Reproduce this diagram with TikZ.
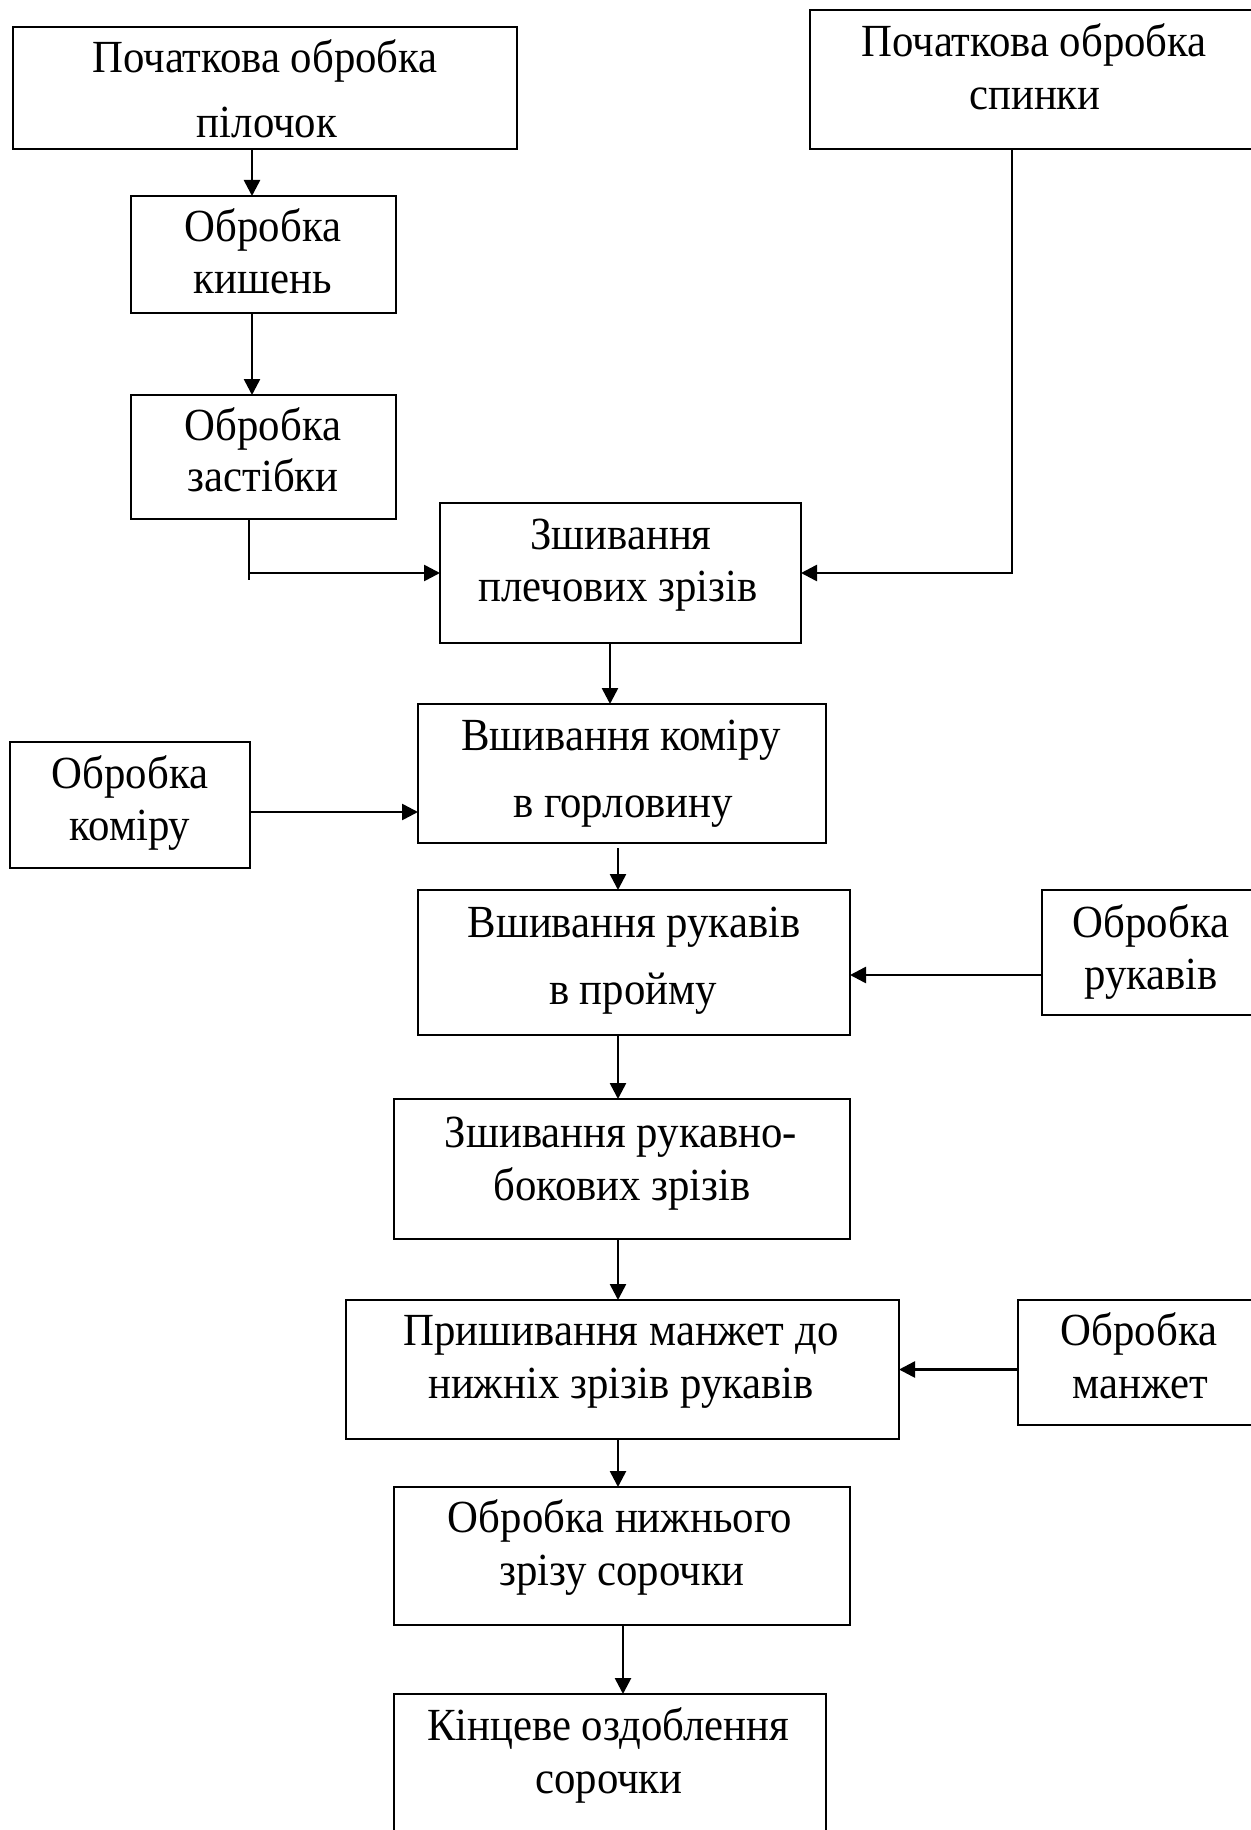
\documentclass[tikz,border=0pt]{standalone}
\usepackage{fontspec}
\setmainfont{Liberation Serif}[FakeStretch=0.93]
\usetikzlibrary{arrows.meta,fit}
\begin{document}
\begin{tikzpicture}[x=0.5pt,y=-0.5pt,
  box/.style={draw, line width=1.2pt, inner sep=0pt, outer sep=0pt},
  lbl/.style={anchor=base, inner sep=0pt, font=\fontsize{23}{27}\selectfont},
  conn/.style={line width=1.3pt},
  arr/.style={conn, -{Triangle[length=8pt,width=8pt]}}]
\useasboundingbox (0,0) rectangle (1250,1830);
% boxes
\node[box, fit={(13,27) (517,149)}] (b1) {};
\node[box, fit={(810,10) (1270,149)}] (b2) {};
\node[box, fit={(131,196) (396,313)}] (b3) {};
\node[box, fit={(131,395) (396,519)}] (b4) {};
\node[box, fit={(440,503) (801,643)}] (b5) {};
\node[box, fit={(418,704) (826,843)}] (b6) {};
\node[box, fit={(10,742) (250,868)}] (b7) {};
\node[box, fit={(418,890) (850,1035)}] (b8) {};
\node[box, fit={(1042,890) (1270,1015)}] (b9) {};
\node[box, fit={(394,1099) (850,1239)}] (b10) {};
\node[box, fit={(346,1300) (899,1439)}] (b11) {};
\node[box, fit={(1018,1300) (1270,1425)}] (b12) {};
\node[box, fit={(394,1487) (850,1625)}] (b13) {};
\node[box, fit={(394,1694) (826,1850)}] (b14) {};
% texts
\node[lbl] (t1a) at (265,73) {Початкова обробка};
\node[lbl] (t1b) at (267,138) {пілочок};
\node[lbl] (t2a) at (1034,57) {Початкова обробка};
\node[lbl] (t2b) at (1035,110) {спинки};
\node[lbl] (t3a) at (263,242) {Обробка};
\node[lbl] (t3b) at (263,293) {кишень};
\node[lbl] (t4a) at (263,440) {Обробка};
\node[lbl] (t4b) at (263,491) {застібки};
\node[lbl] (t5a) at (621,549) {Зшивання};
\node[lbl] (t5b) at (618,601) {плечових зрізів};
\node[lbl] (t6a) at (621,750) {Вшивання коміру};
\node[lbl] (t6b) at (623,817) {в горловину};
\node[lbl] (t7a) at (130,788) {Обробка};
\node[lbl] (t7b) at (130,840) {коміру};
\node[lbl] (t8a) at (634,937) {Вшивання рукавів};
\node[lbl] (t8b) at (633,1004) {в пройму};
\node[lbl] (t9a) at (1151,937) {Обробка};
\node[lbl] (t9b) at (1151,989) {рукавів};
\node[lbl] (t10a) at (621,1147) {Зшивання рукавно-};
\node[lbl] (t10b) at (622,1200) {бокових зрізів};
\node[lbl] (t11a) at (621,1345) {Пришивання манжет до};
\node[lbl] (t11b) at (621,1398) {нижніх зрізів рукавів};
\node[lbl] (t12a) at (1139,1345) {Обробка};
\node[lbl] (t12b) at (1140,1398) {манжет};
\node[lbl] (t13a) at (620,1532) {Обробка нижнього};
\node[lbl] (t13b) at (622,1585) {зрізу сорочки};
\node[lbl] (t14a) at (608,1740) {Кінцеве оздоблення};
\node[lbl] (t14b) at (609,1793) {сорочки};
% guide coordinates
\coordinate (x1) at (252,0);
\coordinate (x3) at (249,0);
\coordinate (x3end) at (249,580);
\coordinate (x4) at (1012,0);
\coordinate (x5) at (610,0);
\coordinate (x6) at (618,0);
\coordinate (x13) at (623,0);
\coordinate (y7) at (0,812);
\coordinate (y8) at (0,975);
% connectors
\draw[arr] (b1.south -| x1) -- (b3.north -| x1);
\draw[arr] (b3.south -| x1) -- (b4.north -| x1);
\draw[conn] (b4.south -| x3) -- (x3end);
\draw[arr] (b5.west -| x3) -- (b5.west);
\draw[arr] (b2.south -| x4) -- (x4 |- b5.east) -- (b5.east);
\draw[arr] (b5.south -| x5) -- (b6.north -| x5);
\draw[arr, shorten <=2.5pt] (b6.south -| x6) -- (b8.north -| x6);
\draw[arr] (b7.east |- y7) -- (b6.west |- y7);
\draw[arr] (b9.west |- y8) -- (b8.east |- y8);
\draw[arr] (b8.south -| x6) -- (b10.north -| x6);
\draw[arr] (b10.south -| x6) -- (b11.north -| x6);
\draw[arr] (b12.west |- b11.east) -- (b11.east);
\draw[arr] (b11.south -| x6) -- (b13.north -| x6);
\draw[arr] (b13.south -| x13) -- (b14.north -| x13);
\end{tikzpicture}
\end{document}
